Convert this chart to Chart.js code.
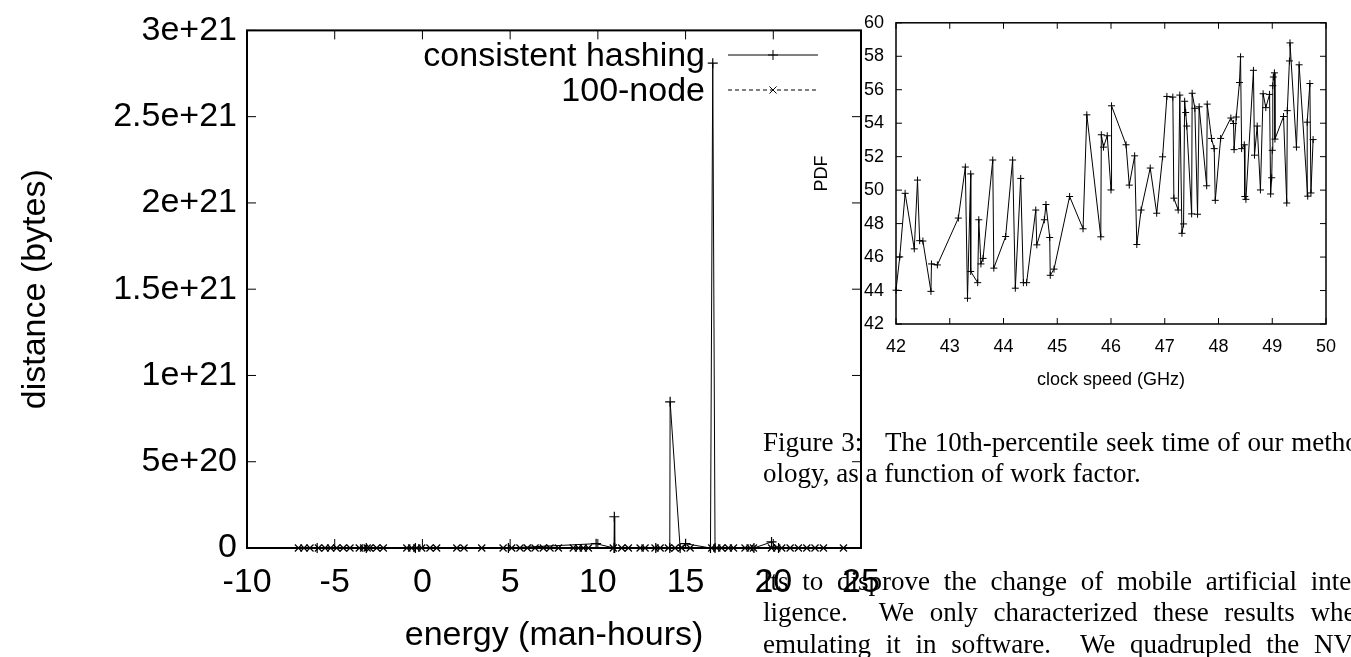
<!DOCTYPE html>
<html lang="en">
<head>
    <meta charset="UTF-8">
    <title>distance vs energy</title>
    <style>
        body {
            margin: 0;
            width: 1351px;
            height: 657px;
            overflow: hidden;
            background: #fff;
            position: relative;
        }
        canvas {
            position: absolute;
        }
        #main { left: 0; top: 0; }
        #inset { left: 780px; top: 0; }
        .txt {
            position: absolute;
            left: 763px;
            font-family: "Liberation Serif", "Times New Roman", serif;
            font-size: 27px;
            color: #000;
            white-space: nowrap;
            line-height: 1;
        }
    </style>
</head>
<body>

<canvas id="main" width="900" height="657"></canvas>
<canvas id="inset" width="571" height="400"></canvas>

<div class="txt" style="top:429px; word-spacing:1px">Figure 3:&nbsp;&nbsp; The 10th-percentile seek time of our methodol-</div>
<div class="txt" style="top:460px">ology, as a function of work factor.</div>
<div class="txt" style="top:568px; word-spacing:7px">lts to disprove the change of mobile artificial intel-</div>
<div class="txt" style="top:599px; word-spacing:9px">ligence.&nbsp; We only characterized these results when</div>
<div class="txt" style="top:631px; word-spacing:8px">emulating it in software.&nbsp; We quadrupled the NV-</div>

<script src="https://cdn.jsdelivr.net/npm/chart.js"></script>
<script>
    // main plot: consistent hashing (+) and 100-node (x)
    const hashX = [-6.0, -3.2, -0.4, 4.9, 9.9, 10.92, 10.94, 10.96, 13.3, 14.1, 14.12, 14.69, 15.0, 16.42, 16.55, 16.68, 18.9, 19.9, 20.3];
    const hashY = [0, 0, 0, 0, 2.5e19, 0, 1.81e20, 0, 0, 0, 8.47e20, 0, 2.5e19, 0, 2.81e21, 0, 0, 3.5e19, 0];

    const nodeX = [-7.07, -6.75, -6.41, -5.93, -5.55, -5.23, -4.89, -4.51, -4.13, -3.6, -3.35, -3.15, -3.0,
        -2.61, -2.23, -0.89, -0.61, -0.32, -0.04, 0.43, 0.81, 1.96, 2.37, 3.38, 4.6, 5.09, 5.56, 5.98,
        6.42, 6.89, 7.27, 7.75, 8.6, 8.89, 9.17, 9.46, 10.88, 11.36, 11.74, 12.41, 12.69, 13.26, 13.55,
        14.02, 14.4, 14.78, 15.26, 16.49, 16.78, 17.06, 17.44, 17.73, 18.39, 18.68, 18.87, 19.9, 20.2,
        20.48, 20.96, 21.43, 21.91, 22.38, 22.86, 24.0];
    const nodeY = [0, 0, 0, 0, 0, 0, 0, 0, 0, 0, 0, 0, 0,
        0, 0, 0, 0, 0, 0, 0, 0, 0, 0, 0, 0, 0, 0, 0,
        0, 0, 0, 0, 0, 0, 0, 0, 0, 0, 0, 0, 0, 0, 0,
        0, 0, 0, 0, 0, 0, 0, 0, 0, 0, 0, 0, 0, 0,
        0, 0, 0, 0, 0, 0, 0];

    // inset plot: PDF vs clock speed
    const pdfX = [42.00, 42.07, 42.17, 42.34, 42.40, 42.44, 42.50, 42.65, 42.66, 42.77,
        43.16, 43.29, 43.33, 43.39, 43.39, 43.52, 43.54, 43.58, 43.62, 43.80,
        43.82, 44.04, 44.17, 44.22, 44.32, 44.37, 44.43, 44.60, 44.62, 44.76,
        44.79, 44.86, 44.87, 44.94, 45.23, 45.48, 45.55, 45.81, 45.82, 45.86,
        45.93, 46.00, 46.01, 46.28, 46.34, 46.44, 46.48, 46.56, 46.73, 46.85,
        46.96, 47.04, 47.15, 47.17, 47.25, 47.28, 47.32, 47.35, 47.37, 47.39,
        47.41, 47.50, 47.51, 47.56, 47.61, 47.64, 47.78, 47.79, 47.87, 47.92,
        47.94, 48.04, 48.23, 48.28, 48.29, 48.33, 48.39, 48.41, 48.43, 48.48,
        48.49, 48.51, 48.65, 48.67, 48.72, 48.78, 48.83, 48.88, 48.95, 48.97,
        48.99, 49.00, 49.01, 49.02, 49.04, 49.05, 49.21, 49.27, 49.28, 49.32,
        49.33, 49.45, 49.50, 49.66, 49.65, 49.70, 49.72, 49.76];
    const pdfY = [44.02, 46.01, 49.81, 46.49, 50.60, 46.98, 46.96, 43.95, 45.59, 45.53,
        48.33, 51.38, 43.54, 50.97, 45.14, 44.47, 48.23, 45.59, 45.92, 51.80,
        45.34, 47.23, 51.80, 44.14, 50.70, 44.47, 44.47, 48.81, 46.73, 48.23,
        49.14, 47.17, 44.91, 45.28, 49.62, 47.69, 54.50, 47.21, 53.31, 52.57,
        53.25, 50.01, 55.04, 52.71, 50.30, 52.05, 46.75, 48.81, 51.32, 48.62,
        51.99, 55.60, 55.56, 49.52, 48.81, 55.68, 47.42, 47.98, 55.31, 54.64,
        53.83, 48.58, 55.79, 54.89, 48.56, 54.98, 50.26, 55.14, 53.09, 52.48,
        49.39, 53.09, 54.31, 53.98, 52.42, 54.37, 56.43, 57.97, 52.48, 52.71,
        49.62, 49.45, 57.16, 52.09, 53.83, 50.01, 55.76, 54.93, 55.72, 49.77,
        50.74, 52.38, 56.24, 56.76, 57.01, 53.05, 54.40, 49.23, 54.75, 57.72,
        58.80, 52.57, 57.49, 49.64, 54.06, 56.37, 49.83, 53.02];

    const SANS = '"Liberation Sans", Arial, Helvetica, sans-serif';

    // gnuplot style box with ticks pointing inward on all four sides
    const frameTicks = {
        id: 'frameTicks',
        afterDatasetsDraw(chart, args, opts) {
            const { ctx, chartArea: a, scales: { x, y } } = chart;
            ctx.save();
            ctx.strokeStyle = '#000';
            ctx.lineWidth = opts.width;
            ctx.beginPath();
            x.ticks.forEach(t => {
                const px = x.getPixelForValue(t.value);
                ctx.moveTo(px, a.bottom); ctx.lineTo(px, a.bottom - opts.len);
                ctx.moveTo(px, a.top); ctx.lineTo(px, a.top + opts.len);
            });
            y.ticks.forEach(t => {
                const py = y.getPixelForValue(t.value);
                ctx.moveTo(a.left, py); ctx.lineTo(a.left + opts.len, py);
                ctx.moveTo(a.right, py); ctx.lineTo(a.right - opts.len, py);
            });
            ctx.stroke();
            ctx.lineWidth = opts.frame;
            ctx.strokeRect(a.left, a.top, a.right - a.left, a.bottom - a.top);
            ctx.restore();
        }
    };

    // legend: text right aligned, sample line with marker on its right
    const gpLegend = {
        id: 'gpLegend',
        afterDraw(chart, args, opts) {
            if (!opts.show) return;
            const ctx = chart.ctx;
            ctx.save();
            ctx.font = '34px ' + SANS;
            ctx.fillStyle = '#000';
            ctx.textAlign = 'right';
            ctx.textBaseline = 'middle';
            chart.data.datasets.forEach((ds, i) => {
                const yy = opts.rows[i];
                ctx.fillText(ds.label, opts.textRight, yy + 2);
                ctx.strokeStyle = '#000';
                ctx.lineWidth = 1;
                ctx.setLineDash(ds.borderDash || []);
                ctx.beginPath();
                ctx.moveTo(opts.lineFrom, yy);
                ctx.lineTo(opts.lineTo, yy);
                ctx.stroke();
                ctx.setLineDash([]);
                Chart.helpers.drawPoint(ctx, { pointStyle: ds.pointStyle, radius: 5, borderWidth: 1, rotation: 0 },
                    (opts.lineFrom + opts.lineTo) / 2, yy);
            });
            ctx.restore();
        }
    };

    Chart.register(frameTicks, gpLegend);

    function toPoints(xs, ys) {
        return xs.map((x, i) => ({ x: x, y: ys[i] }));
    }

    function sciLabel(v) {
        if (v === 0) return '0';
        return v.toExponential();
    }

    new Chart(document.getElementById('main'), {
        type: 'line',
        data: {
            datasets: [{
                label: 'consistent hashing',
                data: toPoints(hashX, hashY),
                borderColor: '#000',
                borderWidth: 1,
                pointStyle: 'cross',
                pointRadius: 5,
                pointBorderWidth: 1.2,
                pointBorderColor: '#000',
                pointBackgroundColor: '#000',
                fill: false,
                tension: 0,
                clip: false
            }, {
                label: '100-node',
                data: toPoints(nodeX, nodeY),
                borderColor: '#000',
                borderWidth: 1,
                borderDash: [4, 3],
                pointStyle: 'crossRot',
                pointRadius: 5,
                pointBorderWidth: 1.2,
                pointBorderColor: '#000',
                pointBackgroundColor: '#000',
                fill: false,
                tension: 0,
                clip: false
            }]
        },
        options: {
            animation: false,
            responsive: false,
            devicePixelRatio: 1,
            layout: { padding: { top: 30, right: 39, left: 0, bottom: 0 } },
            plugins: {
                legend: { display: false },
                tooltip: { enabled: false },
                frameTicks: { len: 9, width: 1, frame: 2 },
                gpLegend: { show: true, rows: [55, 90], textRight: 705, lineFrom: 728, lineTo: 818 }
            },
            scales: {
                x: {
                    type: 'linear',
                    min: -10,
                    max: 25,
                    afterFit(s) { s.height = 109; },
                    ticks: { stepSize: 5, color: '#000', font: { family: SANS, size: 34 }, padding: 14, maxRotation: 0 },
                    grid: { display: false, drawTicks: false },
                    border: { display: false },
                    title: { display: true, text: 'energy (man-hours)', color: '#000',
                        font: { family: SANS, size: 34, lineHeight: 1.2 }, padding: { top: 0, bottom: 1 } }
                },
                y: {
                    type: 'linear',
                    min: 0,
                    max: 3e21,
                    afterFit(s) { s.width = 247; },
                    ticks: { stepSize: 5e20, color: '#000', font: { family: SANS, size: 34 }, padding: 10,
                        callback: v => sciLabel(v) },
                    grid: { display: false, drawTicks: false },
                    border: { display: false },
                    title: { display: true, text: 'distance (bytes)', color: '#000',
                        font: { family: SANS, size: 34, lineHeight: 1.2 }, padding: { top: 15, bottom: 0 } }
                }
            }
        }
    });

    new Chart(document.getElementById('inset'), {
        type: 'line',
        data: {
            datasets: [{
                label: 'PDF',
                data: toPoints(pdfX, pdfY),
                borderColor: '#000',
                borderWidth: 1,
                pointStyle: 'cross',
                pointRadius: 3.5,
                pointBorderWidth: 1,
                pointBorderColor: '#000',
                fill: false,
                tension: 0,
                clip: false
            }]
        },
        options: {
            animation: false,
            responsive: false,
            devicePixelRatio: 1,
            layout: { padding: { top: 13, right: 25, left: 0, bottom: 0 } },
            plugins: {
                legend: { display: false },
                tooltip: { enabled: false },
                frameTicks: { len: 6, width: 1, frame: 1.5 },
                gpLegend: { show: false }
            },
            scales: {
                x: {
                    type: 'linear',
                    min: 42,
                    max: 50,
                    afterFit(s) { s.height = 76; },
                    ticks: { stepSize: 1, color: '#000', font: { family: SANS, size: 18 }, padding: 12, maxRotation: 0 },
                    grid: { display: false, drawTicks: false },
                    border: { display: false },
                    title: { display: true, text: 'clock speed (GHz)', color: '#000',
                        font: { family: SANS, size: 18, lineHeight: 1.2 }, padding: { top: 0, bottom: 9 } }
                },
                y: {
                    type: 'linear',
                    min: 42,
                    max: 60,
                    afterFit(s) { s.width = 116; },
                    ticks: { stepSize: 2, color: '#000', font: { family: SANS, size: 18 }, padding: 12 },
                    grid: { display: false, drawTicks: false },
                    border: { display: false },
                    title: { display: true, text: 'PDF', color: '#000',
                        font: { family: SANS, size: 18, lineHeight: 1.2 }, padding: { top: 31, bottom: 0 } }
                }
            }
        }
    });
</script>

</body>
</html>
